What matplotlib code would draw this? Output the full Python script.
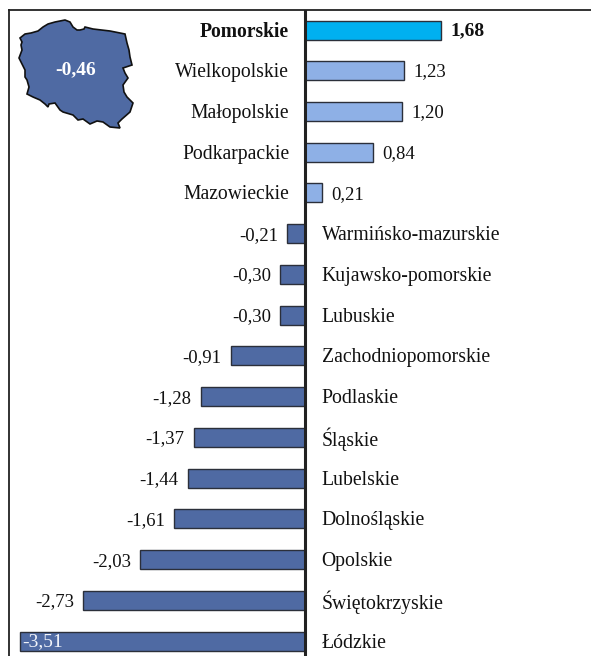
import matplotlib
matplotlib.use("Agg")
import matplotlib.pyplot as plt
from matplotlib.patches import Polygon

plt.rcParams['font.family'] = ['Liberation Serif', 'DejaVu Serif']

regions = ["Pomorskie", "Wielkopolskie", "Małopolskie", "Podkarpackie", "Mazowieckie",
           "Warmińsko-mazurskie", "Kujawsko-pomorskie", "Lubuskie", "Zachodniopomorskie",
           "Podlaskie", "Śląskie", "Lubelskie", "Dolnośląskie", "Opolskie",
           "Świętokrzyskie", "Łódzkie"]
values = [1.68, 1.23, 1.20, 0.84, 0.21, -0.21, -0.30, -0.30, -0.91, -1.28, -1.37,
          -1.44, -1.61, -2.03, -2.73, -3.51]
national_label = "-0,46"

# decorative outline of Poland, figure pixels
outline = [(20, 38), (25, 34), (31, 33), (38, 31), (43, 27), (48, 24), (55, 22), (65, 20), (70, 22), (73, 27),
           (77, 30), (80, 30), (84, 29), (85, 27), (93, 29), (110, 31), (125, 34), (127, 43), (129, 50), (130, 57),
           (132, 65), (123, 68), (125, 73), (128, 78), (123, 85), (124, 92), (127, 97), (133, 103), (130, 112),
           (122, 119), (118, 123), (120, 128), (110, 127), (103, 122), (97, 121), (90, 124), (83, 119), (78, 120),
           (73, 115), (63, 112), (60, 110), (55, 103), (49, 104), (48, 107), (45, 104), (40, 100), (33, 97), (27, 94),
           (29, 87), (27, 80), (25, 77), (25, 70), (21, 62), (19, 58), (22, 50), (21, 45), (22, 42)]
outline_x = [p[0] for p in outline]
outline_y = [p[1] for p in outline]

W, H = 591, 656
fig = plt.figure(figsize=(W / 100, H / 100), dpi=100, facecolor='white')
left, right, top, bottom = 9, 591, 10, 656
ax = fig.add_axes([left / W, 1 - bottom / H, (right - left) / W, (bottom - top) / H])

unit = 81.0
zero = 304.5
ax.set_xlim((left - zero) / unit, (right - zero) / unit)
y0, step = 30.0, 40.74
ax.set_ylim((bottom - y0) / step, (top - y0) / step)

for i, (name, v) in enumerate(zip(regions, values)):
    if i == 0:
        color = '#00B0F0'
    elif v > 0:
        color = '#8EB0E6'
    else:
        color = '#4F6AA3'
    ax.barh(i, v, height=19 / step, color=color, edgecolor='#2b2f3a', linewidth=1.0, zorder=2)
    label = f"{v:.2f}".replace('.', ',')
    weight = 'bold' if i == 0 else 'normal'
    if i == len(values) - 1:
        ax.text(v + 0.02, i + 0.02, label, ha='left', va='center', fontsize=14, color='#f2f4fa', zorder=3)
    elif v > 0:
        ax.text(v + 0.12, i + 0.03, label, ha='left', va='center', fontsize=14 if i == 0 else 13.5,
                weight=weight, color='#111111')
    else:
        ax.text(v - 0.115, i + 0.04, label, ha='right', va='center', fontsize=13.5, color='#111111')
    if v > 0:
        ax.text(-0.19, i + 0.05, name, ha='right', va='center', fontsize=14.1, weight=weight, color='#111111')
    else:
        ax.text(0.21, i + 0.05, name, ha='left', va='center', fontsize=14.2, color='#111111')

ax.axvline(0, color='#222222', linewidth=2.2, zorder=4)
ax.set_xticks([])
ax.set_yticks([])
for s in ['right', 'bottom']:
    ax.spines[s].set_visible(False)
for s in ['left', 'top']:
    ax.spines[s].set_linewidth(1.3)
    ax.spines[s].set_color('#222222')

pts = [(x / W, 1 - y / H) for x, y in zip(outline_x, outline_y)]
fig.add_artist(Polygon(pts, closed=True, transform=fig.transFigure, facecolor='#4F6AA3',
                       edgecolor='#111111', linewidth=1.2))
fig.text(75.5 / W, 1 - 70 / H, national_label, ha='center', va='center', fontsize=14,
         weight='bold', color='white')

fig.savefig('out.png', dpi=100)
